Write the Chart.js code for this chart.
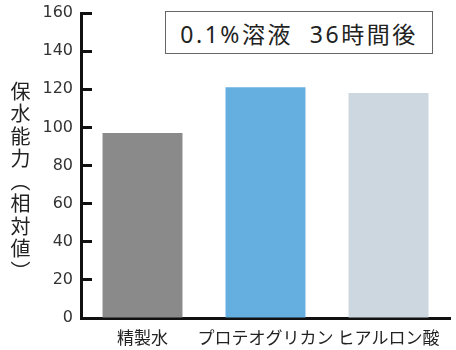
<!DOCTYPE html>
<html lang="ja">
<head>
<meta charset="utf-8">
<script src="https://cdn.jsdelivr.net/npm/chart.js@4"></script>
<style>
  body { margin: 0; background: #fff; }
  #wrap { position: relative; width: 456px; height: 350px; }
  #ytitle {
    position: absolute; left: 9px; top: 81px;
    writing-mode: vertical-rl; text-orientation: upright;
    font-family: 'Noto Sans CJK JP', sans-serif; font-size: 20px; line-height: 22px;
    letter-spacing: 2.5px;
    color: #222;
  }
  #note {
    position: absolute; left: 165px; top: 11px; width: 266px; height: 41px;
    border: 1px solid #666; box-sizing: content-box;
    display: flex; align-items: center; justify-content: center;
    font-family: 'Noto Sans', 'Noto Sans CJK JP', sans-serif; font-size: 23px; color: #222;
    letter-spacing: 2.5px;
    background: #fff;
  }
</style>
</head>
<body>
<div id="wrap">
  <canvas id="chart" width="456" height="350"></canvas>
  <div id="ytitle">保水能力（相対値）</div>
  <div id="note">0.1%溶液&nbsp;&nbsp;36時間後</div>
</div>
<script>
const categories = ['精製水', 'プロテオグリカン', 'ヒアルロン酸'];
const waterRetention = [97, 121, 118];
const barColors = ['#8a8a8a', '#65aee0', '#ccd7df'];
const yMin = 0;
const yMax = 160;
const yStep = 20;

new Chart(document.getElementById('chart'), {
  type: 'bar',
  data: {
    labels: categories,
    datasets: [{
      data: waterRetention,
      backgroundColor: barColors,
      borderWidth: 0,
      barPercentage: 0.65,
      categoryPercentage: 1
    }]
  },
  options: {
    responsive: false,
    animation: false,
    devicePixelRatio: 1,
    layout: { padding: { top: 13, right: 6, left: 0, bottom: 0 } },
    plugins: { legend: { display: false }, tooltip: { enabled: false } },
    scales: {
      x: {
        grid: { display: false },
        border: { display: true, color: '#111', width: 3 },
        ticks: {
          color: '#222',
          padding: 1,
          maxRotation: 0,
          minRotation: 0,
          autoSkip: false,
          font: { family: "'Noto Sans CJK JP', sans-serif", size: 17 }
        },
        afterFit: s => { s.height = 32; }
      },
      y: {
        min: yMin,
        max: yMax,
        grid: {
          drawOnChartArea: false,
          drawTicks: true,
          tickLength: -11,
          tickWidth: 3,
          tickColor: '#111'
        },
        border: { display: true, color: '#111', width: 3 },
        ticks: {
          stepSize: yStep,
          color: '#333',
          padding: 19,
          font: { family: "'DejaVu Sans', sans-serif", size: 16 }
        },
        afterFit: s => {
          s.width = 81;
          s.paddingTop = 0;
          s.paddingBottom = 0;
        }
      }
    }
  }
});
</script>
</body>
</html>
